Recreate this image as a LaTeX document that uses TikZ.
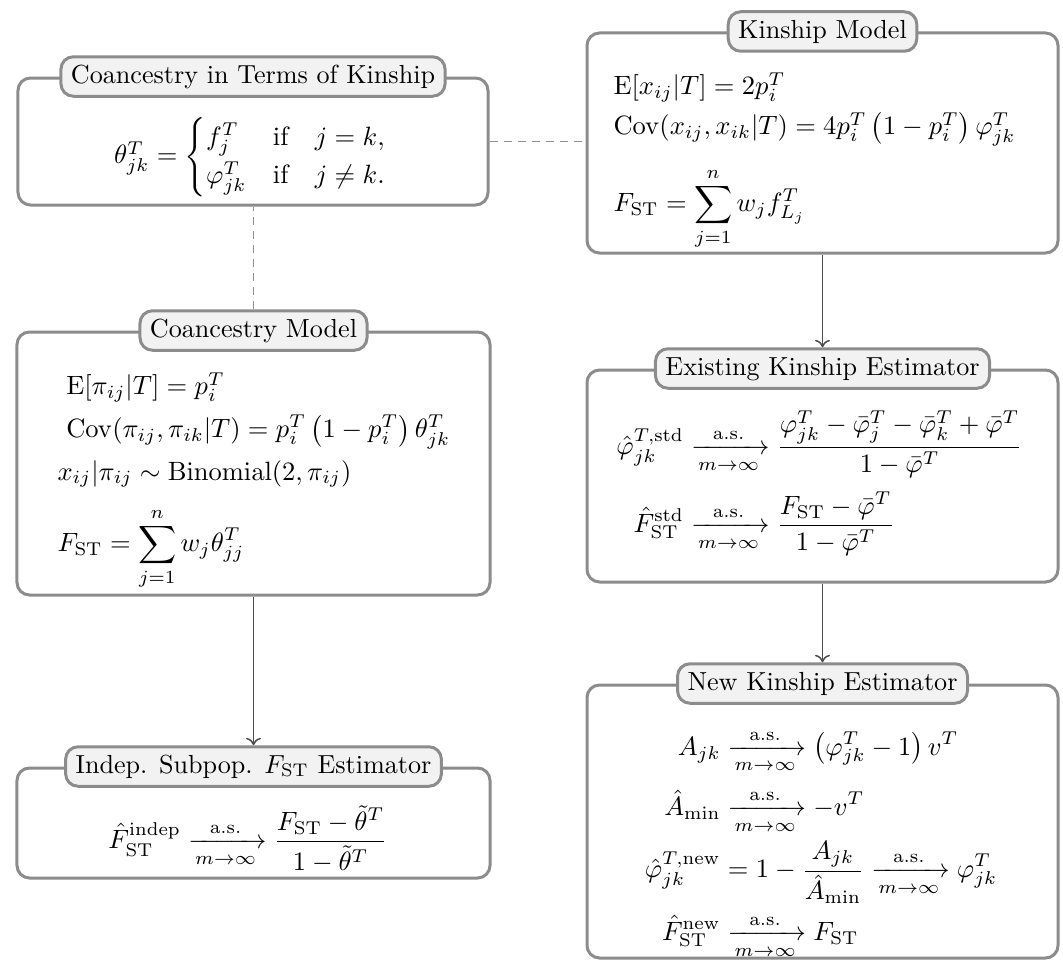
\documentclass[tikz,border=0pt]{standalone}
\usepackage{graphicx}
\usepackage{amsmath}
\usetikzlibrary{arrows.meta}
\definecolor{boxgray}{HTML}{8C8C8C}
\definecolor{titlefill}{HTML}{F2F2F2}
\definecolor{arrowgray}{HTML}{4D4D4D}
\definecolor{dashgray}{HTML}{8F8F8F}
\tikzset{
  outerbox/.style={draw=boxgray, line width=1.2pt, rounded corners=5pt, inner sep=0pt},
  titlebox/.style={draw=boxgray, line width=1.2pt, fill=titlefill, rounded corners=5pt,
    inner xsep=4pt, inner ysep=3pt, text height=7.5pt, text depth=2.3pt},
  content/.style={inner sep=0pt},
  flowarrow/.style={draw=arrowgray, line width=0.6pt, -{To[length=3pt,width=6pt]}},
  linkdash/.style={draw=dashgray, line width=0.6pt, dash pattern=on 3.2pt off 2.4pt}
}
\newcommand{\asto}{\xrightarrow[m\to\infty]{\mathrm{a.s.}}}
\newcommand{\ttl}[1]{\scalebox{1.045}{#1}}
\newcommand{\mth}[1]{\scalebox{1.06}{#1}}
\begin{document}
\begin{tikzpicture}[x=0.4pt,y=-0.4pt]
\useasboundingbox (0,0) rectangle (1063,960);
% outer boxes
\node[outerbox, minimum width=188pt, minimum height=50.8pt] (b1) at (253,141.5) {};
\node[outerbox, minimum width=188.4pt, minimum height=88pt] (b2) at (822.5,143) {};
\node[outerbox, minimum width=189.2pt, minimum height=105.2pt] (b3) at (253.5,463.5) {};
\node[outerbox, minimum width=189.2pt, minimum height=44pt] (b4) at (253.5,823) {};
\node[outerbox, minimum width=188.4pt, minimum height=84.8pt] (b5) at (822.5,476) {};
\node[outerbox, minimum width=188.4pt, minimum height=109.2pt] (b6) at (822.5,821.5) {};
% titles
\node[titlebox] (t1) at (b1.north) {\ttl{Coancestry in Terms of Kinship}};
\node[titlebox] (t2) at (b2.north) {\ttl{Kinship Model}};
\node[titlebox] (t3) at (b3.north) {\ttl{Coancestry Model}};
\node[titlebox] (t4) at (b4.north) {\ttl{Indep. Subpop. $F_{\mathrm{ST}}$ Estimator}};
\node[titlebox] (t5) at (b5.north) {\ttl{Existing Kinship Estimator}};
\node[titlebox] (t6) at (b6.north) {\ttl{New Kinship Estimator}};
% contents
\node[content] (c1) at (251,157) {\mth{$\theta^T_{jk} = \begin{cases} f^T_j & \text{if} \quad j = k,\\ \varphi^T_{jk} & \text{if} \quad j \neq k. \end{cases}$}};
\node[content, anchor=west] (c2) at (613,161) {\mth{$\begin{array}{@{}l@{}}
\mathrm{E}[x_{ij}|T] = 2p_i^T\\[3pt]
\mathrm{Cov}(x_{ij}, x_{ik}|T) = 4 p_i^T \left(1 - p_i^T\right) \varphi^T_{jk}\\[9pt]
\displaystyle F_{\mathrm{ST}} = \sum_{j=1}^{n} w_j f^T_{L_j}
\end{array}$}};
\node[content, anchor=west] (c3) at (57,481) {\mth{$\begin{array}{@{}l@{}}
\ \mathrm{E}[\pi_{ij}|T] = p_i^T\\[4pt]
\ \mathrm{Cov}(\pi_{ij}, \pi_{ik}|T) = p_i^T \left(1 - p_i^T\right) \theta^T_{jk}\\[4pt]
x_{ij}|\pi_{ij} \sim \mathrm{Binomial}(2, \pi_{ij})\\[7pt]
\displaystyle F_{\mathrm{ST}} = \sum_{j=1}^{n} w_j \theta^T_{jj}
\end{array}$}};
\node[content] (c4) at (248,839) {\mth{$\displaystyle \hat F^{\mathrm{indep}}_{\mathrm{ST}} \asto \frac{F_{\mathrm{ST}} - \tilde\theta^T}{1-\tilde\theta^T}$}};
\node[content] (c5) at (819.5,483) {\mth{$\begin{aligned}
\hat\varphi^{T,\mathrm{std}}_{jk} &\asto \frac{\varphi^T_{jk} - \bar\varphi^T_j - \bar\varphi^T_k + \bar\varphi^T}{1-\bar\varphi^T}\\[1.5pt]
\hat F^{\mathrm{std}}_{\mathrm{ST}} &\asto \frac{F_{\mathrm{ST}} - \bar\varphi^T}{1-\bar\varphi^T}
\end{aligned}$}};
\node[content] (c6) at (821,844) {\mth{$\begin{aligned}
A_{jk} &\asto \left(\varphi^T_{jk} - 1\right) v^T\\[2pt]
\hat A_{\min} &\asto -v^T\\[-1pt]
\hat\varphi^{T,\mathrm{new}}_{jk} &= 1 - \frac{A_{jk}}{\hat A_{\min}} \asto \varphi^T_{jk}\\[0pt]
\hat F^{\mathrm{new}}_{\mathrm{ST}} &\asto F_{\mathrm{ST}}
\end{aligned}$}};
% connectors
\draw[linkdash] (b1.east) -- (b1.east -| b2.west);
\draw[linkdash] (t3.north) -- (t3.north |- b1.south);
\draw[flowarrow] (b3.south) -- (t4.north);
\draw[flowarrow] (b2.south) -- (t5.north);
\draw[flowarrow] (b5.south) -- (t6.north);
\end{tikzpicture}
\end{document}
